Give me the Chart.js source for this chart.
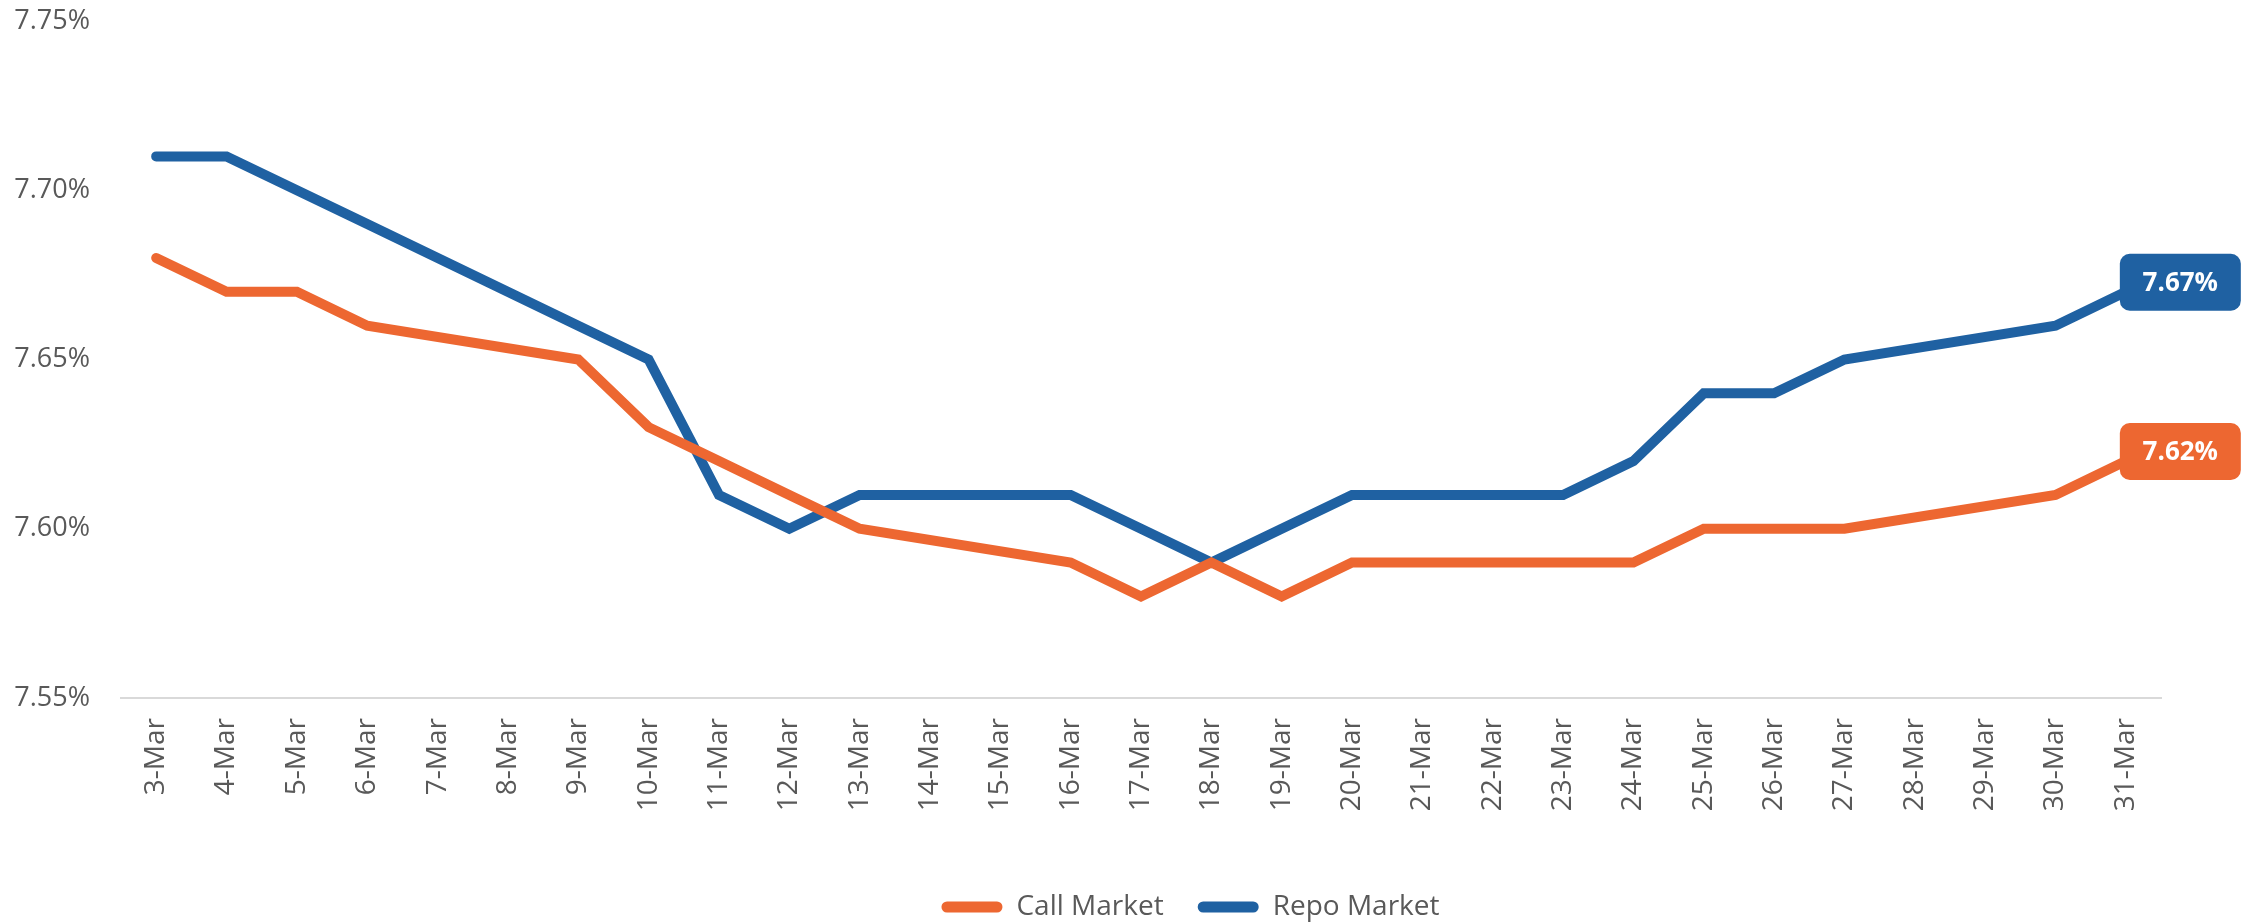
<!DOCTYPE html>
<html>
<head>
<meta charset="utf-8">
<script src="https://cdn.jsdelivr.net/npm/chart.js@4.4.1/dist/chart.umd.min.js"></script>
<style>
  html, body { margin: 0; padding: 0; background: #ffffff; }
  #wrap { width: 2251px; height: 922px; position: relative; }
</style>
</head>
<body>
<div id="wrap"><canvas id="c" width="2251" height="922"></canvas></div>
<script>
// ---- data ----
const categories = ["3-Mar","4-Mar","5-Mar","6-Mar","7-Mar","8-Mar","9-Mar","10-Mar","11-Mar","12-Mar","13-Mar","14-Mar","15-Mar","16-Mar","17-Mar","18-Mar","19-Mar","20-Mar","21-Mar","22-Mar","23-Mar","24-Mar","25-Mar","26-Mar","27-Mar","28-Mar","29-Mar","30-Mar","31-Mar"];
const callMarket = [7.68, 7.67, 7.67, 7.66, null, null, 7.65, 7.63, 7.62, 7.61, 7.60, null, null, 7.59, 7.58, 7.59, 7.58, 7.59, null, null, 7.59, 7.59, 7.60, 7.60, 7.60, null, null, 7.61, 7.62];
const repoMarket = [7.71, 7.71, 7.70, 7.69, null, null, 7.66, 7.65, 7.61, 7.60, 7.61, null, null, 7.61, 7.60, 7.59, 7.60, 7.61, null, null, 7.61, 7.62, 7.64, 7.64, 7.65, null, null, 7.66, 7.67];
const seriesNames = ["Call Market", "Repo Market"];
const yTicks = { min: 7.55, max: 7.75, step: 0.05 };

const ORANGE = '#ED6731';
const BLUE = '#1F61A2';
const TEXT = '#595959';
const FONT = "'Open Sans', 'Noto Sans', sans-serif";

const lastLabelPlugin = {
  id: 'lastLabel',
  afterDatasetsDraw(chart) {
    const ctx = chart.ctx;
    chart.data.datasets.forEach((ds, i) => {
      const meta = chart.getDatasetMeta(i);
      let idx = ds.data.length - 1;
      while (idx >= 0 && ds.data[idx] == null) idx--;
      if (idx < 0) return;
      const pt = meta.data[idx];
      const w = 121, h = 57;
      const left = pt.x - 6, top = pt.y - 38;
      ctx.save();
      ctx.fillStyle = ds.borderColor;
      ctx.beginPath();
      ctx.roundRect(left, top, w, h, 10);
      ctx.fill();
      ctx.fillStyle = '#ffffff';
      ctx.font = "bold 26px " + FONT;
      ctx.textAlign = 'center';
      ctx.textBaseline = 'middle';
      ctx.fillText(ds.data[idx].toFixed(2) + '%', left + w / 2, top + h / 2 + 1);
      ctx.restore();
    });
  }
};

const legendShift = {
  id: 'legendShift',
  afterLayout(chart) {
    if (chart.legend) { chart.legend.left += 110; chart.legend.right += 110; }
  }
};

new Chart(document.getElementById('c'), {
  type: 'line',
  data: {
    labels: categories,
    datasets: [
      { label: seriesNames[0], data: callMarket, borderColor: ORANGE, backgroundColor: ORANGE },
      { label: seriesNames[1], data: repoMarket, borderColor: BLUE, backgroundColor: BLUE }
    ]
  },
  options: {
    responsive: false,
    animation: false,
    devicePixelRatio: 1,
    spanGaps: true,
    layout: { padding: { top: 21, right: 90, bottom: -9, left: 0 } },
    elements: {
      line: { borderWidth: 10, tension: 0, borderCapStyle: 'round', borderJoinStyle: 'miter' },
      point: { radius: 0, hoverRadius: 0 }
    },
    plugins: {
      legend: {
        position: 'bottom',
        align: 'center',
        labels: {
          color: TEXT,
          font: { family: FONT, size: 28 },
          boxWidth: 61,
          boxHeight: 11,
          useBorderRadius: true,
          borderRadius: 5.5,
          padding: 34,
          generateLabels(chart) {
            return chart.data.datasets.map((ds, i) => ({
              text: ds.label,
              fillStyle: ds.borderColor,
              strokeStyle: ds.borderColor,
              lineWidth: 0,
              fontColor: TEXT,
              borderRadius: 5.5,
              datasetIndex: i,
              hidden: false
            }));
          }
        }
      },
      tooltip: { enabled: false }
    },
    scales: {
      x: {
        offset: true,
        grid: { display: false, drawTicks: false, offset: true },
        border: { display: true, color: '#D9D9D9', width: 2 },
        ticks: {
          color: TEXT,
          font: { family: FONT, size: 28 },
          autoSkip: false,
          minRotation: 90,
          maxRotation: 90,
          padding: 20
        },
        afterFit(scale) { scale.height = 161; scale.paddingLeft = 0; scale.paddingRight = 0; }
      },
      y: {
        min: yTicks.min,
        max: yTicks.max,
        grid: { display: false, drawTicks: false },
        border: { display: false },
        ticks: {
          stepSize: yTicks.step,
          color: TEXT,
          font: { family: FONT, size: 27 },
          padding: 31,
          callback: (v) => Number(v).toFixed(2) + '%'
        },
        afterFit(scale) { scale.width = 121; scale.paddingTop = 14; scale.paddingBottom = 14; }
      }
    }
  },
  plugins: [lastLabelPlugin, legendShift]
});
</script>
</body>
</html>
